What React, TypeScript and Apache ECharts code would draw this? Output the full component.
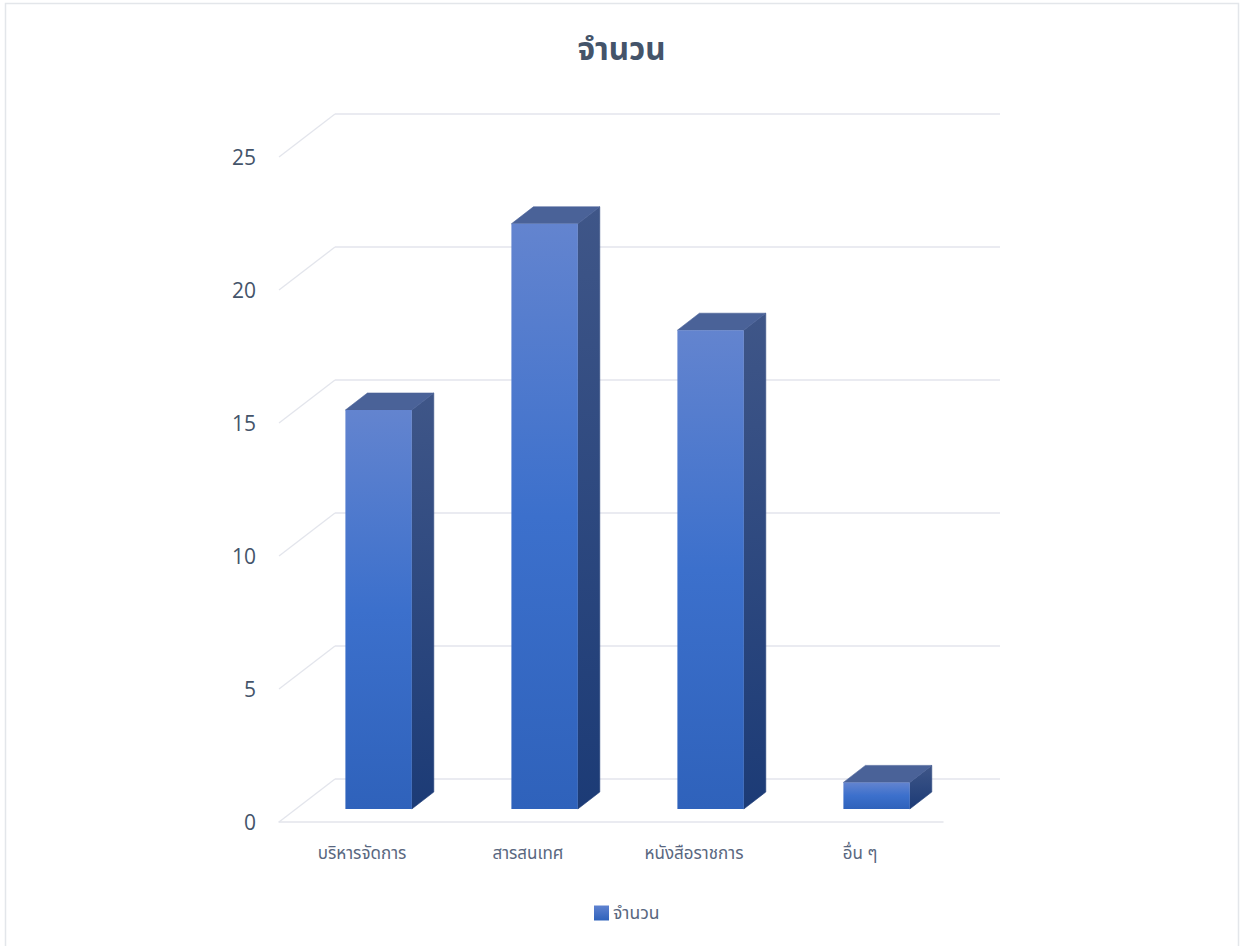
import React, { useEffect, useRef } from "react";
import * as echarts from "echarts";

const title = "จำนวน";
const categories = ["บริหารจัดการ", "สารสนเทศ", "หนังสือราชการ", "อื่น ๆ"];
const values = [15, 22, 18, 1];
const yTicks = [0, 5, 10, 15, 20, 25];

const THAI = "'Noto Sans Thai', 'Noto Sans', 'Liberation Sans', 'DejaVu Sans', sans-serif";
const LATIN = "'Open Sans', 'Noto Sans', sans-serif";

const grad = (a: string, b: string, c?: string) =>
  new echarts.graphic.LinearGradient(0, 0, 0, 1, c
    ? [{ offset: 0, color: a }, { offset: 0.5, color: b }, { offset: 1, color: c }]
    : [{ offset: 0, color: a }, { offset: 1, color: b }]);

export default function App() {
  const ref = useRef<HTMLDivElement>(null);
  useEffect(() => {
    const chart = echarts.init(ref.current!, undefined, { renderer: "svg" });
    const depthX = 22, depthY = 17;
    const wallX = 56, wallY = 43;
    const floorLift = 13;
    chart.setOption({
      animation: false,
      backgroundColor: "#ffffff",
      title: {
        text: title, left: "center", top: 29,
        textStyle: { fontFamily: THAI, fontSize: 31.5, fontWeight: "bold", color: "#44546a" },
      },
      legend: {
        data: [{ name: title, icon: "rect", itemStyle: { color: grad("#5f82d0", "#2f62bb") } }],
        left: 589, top: 899, itemWidth: 15, itemHeight: 15, itemGap: 4,
        textStyle: { fontFamily: THAI, fontSize: 17.5, color: "#596780", padding: [0, 0, 0, -1] },
      },
      grid: { left: 279, right: 300, top: 157, bottom: 124 },
      xAxis: {
        type: "category", data: categories, boundaryGap: true,
        axisTick: { show: false },
        axisLine: { lineStyle: { color: "#e3e5ec", width: 1.5 } },
        axisLabel: { fontFamily: THAI, fontSize: 17, color: "#596780", margin: 23 },
      },
      yAxis: {
        type: "value", min: 0, max: 25, interval: 5,
        axisLine: { show: false }, axisTick: { show: false }, splitLine: { show: false },
        axisLabel: { fontFamily: LATIN, fontSize: 21, color: "#44546a", margin: 23, padding: [2, 0, 0, 0] },
      },
      graphic: [{
        type: "rect", silent: true, z: -10,
        shape: { x: 5.5, y: 3.5, width: 1233, height: 960 },
        style: { fill: "none", stroke: "#e3e6ea", lineWidth: 1.5 },
      }],
      series: [
        {
          type: "custom", name: "walls", data: yTicks.map((v) => [0, v]), z: 1, silent: true,
          renderItem: (params: any, api: any) => {
            const cs = params.coordSys;
            const y = api.coord([0, api.value(1)])[1];
            const x0 = cs.x;
            const lineStyle = { stroke: "#e3e5ec", lineWidth: 1.3, fill: "none" };
            return {
              type: "group",
              children: [
                { type: "line", shape: { x1: x0, y1: y, x2: x0 + wallX, y2: y - wallY }, style: lineStyle },
                { type: "line", shape: { x1: x0 + wallX, y1: y - wallY, x2: x0 + cs.width + wallX + 1, y2: y - wallY }, style: lineStyle },
              ],
            };
          },
        },
        {
          type: "custom", name: title, z: 3,
          data: values.map((v, i) => [i, v]),
          encode: { x: 0, y: 1 },
          renderItem: (params: any, api: any) => {
            const i = api.value(0), v = api.value(1);
            const cx = api.coord([i, 0])[0];
            const base = api.coord([i, 0])[1] - floorLift;
            const top = api.coord([i, v])[1] - floorLift;
            const w = api.size([1, 0])[0] * 0.4;
            const l = cx - w / 4, r = l + w;
            const side = grad("#3f5688", "#1c3b76");
            return {
              type: "group",
              children: [
                {
                  type: "polygon",
                  shape: { points: [[r, top], [r + depthX, top - depthY], [r + depthX, base - depthY], [r, base]] },
                  style: { fill: side, stroke: side, lineWidth: 0.6 },
                },
                {
                  type: "polygon",
                  shape: { points: [[l, top], [l + depthX, top - depthY], [r + depthX, top - depthY], [r, top]] },
                  style: { fill: "#4a6298", stroke: "#4a6298", lineWidth: 0.6 },
                },
                {
                  type: "rect",
                  shape: { x: l, y: top, width: w, height: base - top },
                  style: { fill: grad("#6384cf", "#3c70cc", "#2f62bb") },
                },
              ],
            };
          },
        },
      ],
    });
    return () => chart.dispose();
  }, []);
  return <div ref={ref} style={{ position: "fixed", left: 0, top: 0, width: 1243, height: 946 }} />;
}
